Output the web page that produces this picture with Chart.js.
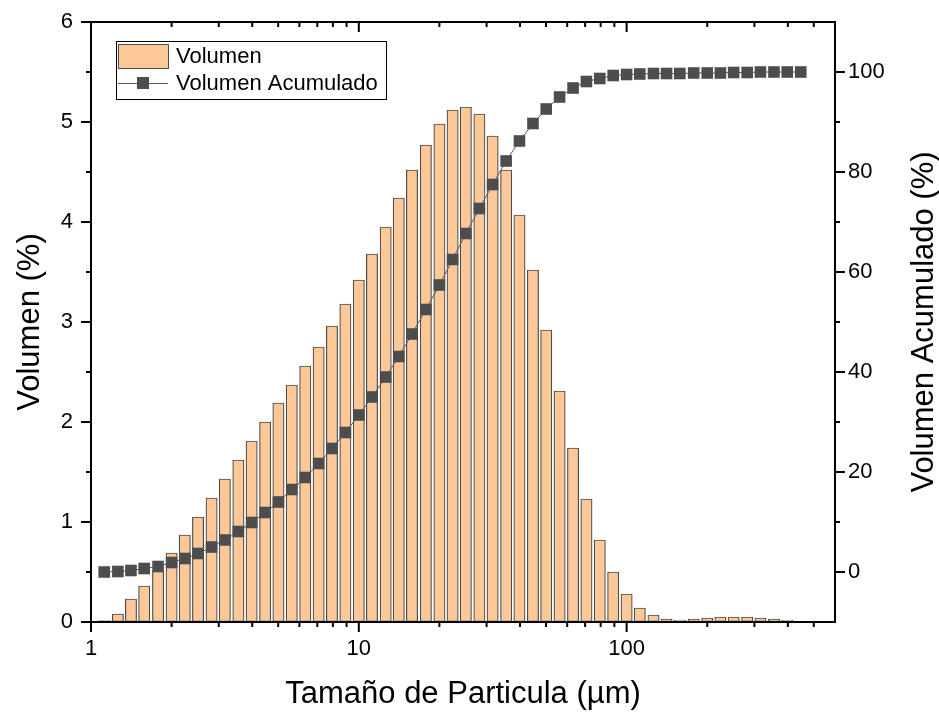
<!doctype html>
<html>
<head>
<meta charset="utf-8">
<title>Volumen vs Tamaño de Particula</title>
<script src="https://cdn.jsdelivr.net/npm/chart.js@4.4.0/dist/chart.umd.min.js"></script>
<style>
  html, body { margin: 0; padding: 0; background: #fff; }
  #holder { width: 939px; height: 719px; }
</style>
</head>
<body>
<div id="holder"><canvas id="chart"></canvas></div>
<script>
// particle size (µm), one bin every 1/20 decade
var tamanos = [1.12, 1.26, 1.41, 1.58, 1.78, 2.00, 2.24, 2.51, 2.82, 3.16,
               3.55, 3.98, 4.47, 5.01, 5.62, 6.31, 7.08, 7.94, 8.91, 10.0,
               11.2, 12.6, 14.1, 15.8, 17.8, 20.0, 22.4, 25.1, 28.2, 31.6,
               35.5, 39.8, 44.7, 50.1, 56.2, 63.1, 70.8, 79.4, 89.1, 100,
               112, 126, 141, 158, 178, 200, 224, 251, 282, 316,
               355, 398, 447];
// Volumen (%)
var volumen = [0.015, 0.08, 0.23, 0.36, 0.51, 0.69, 0.87, 1.05, 1.24, 1.43,
               1.62, 1.81, 2.00, 2.19, 2.37, 2.56, 2.75, 2.96, 3.18, 3.42,
               3.68, 3.95, 4.24, 4.52, 4.77, 4.98, 5.12, 5.15, 5.08, 4.86,
               4.52, 4.07, 3.52, 2.92, 2.31, 1.74, 1.23, 0.82, 0.50, 0.28,
               0.14, 0.07, 0.03, 0.02, 0.03, 0.04, 0.05, 0.05, 0.05, 0.04,
               0.03, 0.02];
// Volumen Acumulado (%)
var acumulado = [0, 0.1, 0.3, 0.7, 1.1, 1.9, 2.7, 3.7, 5.0, 6.4,
                 8.1, 9.9, 11.9, 14.0, 16.5, 18.9, 21.7, 24.7, 27.9, 31.4,
                 35.0, 39.0, 43.1, 47.6, 52.5, 57.4, 62.5, 67.7, 72.7, 77.5,
                 82.2, 86.2, 89.7, 92.6, 95.0, 96.8, 98.1, 98.7, 99.3, 99.5,
                 99.6, 99.7, 99.7, 99.7, 99.8, 99.8, 99.8, 99.9, 99.9, 100,
                 100, 100, 100];

var xTicks = [1, 10, 100];
var xTicksMinor = [2, 3, 4, 5, 6, 7, 8, 9, 20, 30, 40, 50, 60, 70, 80, 90, 200, 300, 400, 500];
var yTicks = [0, 1, 2, 3, 4, 5, 6];
var yTicksMinor = [0.5, 1.5, 2.5, 3.5, 4.5, 5.5];
var y1Ticks = [0, 20, 40, 60, 80, 100];
var y1TicksMinor = [10, 30, 50, 70, 90];

var FONT = '"Liberation Sans", Arial, sans-serif';
Chart.defaults.font.family = FONT;
Chart.defaults.color = '#000';

var peach = '#fdc898';
var dark = '#4d4d4d';

// axes box + tick marks (major long, minor short)
var framePlugin = {
  id: 'frame',
  afterDatasetsDraw: function(chart) {
    var ctx = chart.ctx, a = chart.chartArea, s = chart.scales;
    ctx.save();
    ctx.strokeStyle = '#000';
    ctx.lineWidth = 2;
    function line(x1, y1, x2, y2) {
      ctx.beginPath(); ctx.moveTo(x1, y1); ctx.lineTo(x2, y2); ctx.stroke();
    }
    xTicks.forEach(function(v) {
      var x = s.x.getPixelForValue(v);
      line(x, a.bottom, x, a.bottom + 10);
      line(x, a.top, x, a.top + 10);
    });
    xTicksMinor.forEach(function(v) {
      var x = s.x.getPixelForValue(v);
      line(x, a.bottom, x, a.bottom + 5);
      line(x, a.top, x, a.top + 5);
    });
    yTicks.forEach(function(v) {
      var y = s.y.getPixelForValue(v);
      line(a.left - 10, y, a.left, y);
    });
    yTicksMinor.forEach(function(v) {
      var y = s.y.getPixelForValue(v);
      line(a.left - 5, y, a.left, y);
    });
    y1Ticks.forEach(function(v) {
      var y = s.y1.getPixelForValue(v);
      line(a.right, y, a.right + 10, y);
    });
    y1TicksMinor.forEach(function(v) {
      var y = s.y1.getPixelForValue(v);
      line(a.right, y, a.right + 5, y);
    });
    ctx.strokeRect(a.left, a.top, a.right - a.left, a.bottom - a.top);

    // right axis title, reading bottom to top
    ctx.fillStyle = '#000';
    ctx.font = '31px ' + FONT;
    ctx.textAlign = 'center';
    ctx.textBaseline = 'middle';
    ctx.translate(924, (a.top + a.bottom) / 2);
    ctx.rotate(-Math.PI / 2);
    ctx.fillText('Volumen Acumulado (%)', 0, 0);
    ctx.restore();
  }
};

var legendPlugin = {
  id: 'boxLegend',
  afterDraw: function(chart) {
    var ctx = chart.ctx;
    var ds = chart.data.datasets;
    ctx.save();
    ctx.fillStyle = '#fff';
    ctx.fillRect(116, 41, 270, 58);
    ctx.strokeStyle = '#000';
    ctx.lineWidth = 1;
    ctx.strokeRect(116.5, 41.5, 270, 58);

    ctx.fillStyle = ds[0].backgroundColor;
    ctx.fillRect(118, 44, 50, 24);
    ctx.strokeStyle = ds[0].borderColor;
    ctx.strokeRect(118.5, 44.5, 50, 24);

    ctx.strokeStyle = ds[1].borderColor;
    ctx.beginPath(); ctx.moveTo(118, 83.5); ctx.lineTo(168, 83.5); ctx.stroke();
    ctx.fillStyle = ds[1].pointBackgroundColor;
    ctx.fillRect(137, 77, 12, 12);

    ctx.fillStyle = '#000';
    ctx.font = '22px ' + FONT;
    ctx.textBaseline = 'middle';
    ctx.fillText(ds[0].label, 176, 57);
    ctx.fillText(ds[1].label, 176, 84);
    ctx.restore();
  }
};

function setTicks(list) {
  return function(scale) {
    scale.ticks = list.map(function(v) { return { value: v }; });
  };
}

var ctx = document.getElementById('chart').getContext('2d');
window.myChart = new Chart(ctx, {
  type: 'bar',
  data: {
    datasets: [{
      type: 'bar',
      label: 'Volumen',
      data: volumen.map(function(v, i) { return { x: tamanos[i], y: v }; }),
      backgroundColor: peach,
      borderColor: dark,
      borderWidth: 1.2,
      borderSkipped: false,
      barThickness: 11.3,
      yAxisID: 'y',
      order: 2
    }, {
      type: 'line',
      label: 'Volumen Acumulado',
      data: acumulado.map(function(v, i) { return { x: tamanos[i], y: v }; }),
      borderColor: '#5a5a5a',
      borderWidth: 1,
      pointStyle: 'rect',
      pointRadius: 8.2,
      pointBorderWidth: 0,
      pointBackgroundColor: dark,
      yAxisID: 'y1',
      order: 1
    }]
  },
  options: {
    responsive: true,
    maintainAspectRatio: false,
    animation: false,
    layout: { padding: { top: 22, left: 0, right: 0, bottom: 0 } },
    plugins: {
      legend: { display: false },
      tooltip: { enabled: false }
    },
    scales: {
      x: {
        type: 'logarithmic',
        min: 1,
        max: 600,
        offset: false,
        afterBuildTicks: setTicks(xTicks),
        afterFit: function(s) { s.height = 97; },
        grid: { display: true, drawOnChartArea: false, color: 'rgba(0,0,0,0)', tickLength: 10, offset: false },
        border: { display: false },
        ticks: {
          autoSkip: false, maxRotation: 0, padding: 4,
          font: { size: 22 },
          callback: function(v) { return String(v); }
        },
        title: {
          display: true, text: 'Tamaño de Particula (µm)',
          font: { size: 31 }, padding: { top: 0, bottom: 6 }
        }
      },
      y: {
        type: 'linear',
        position: 'left',
        min: 0,
        max: 6,
        afterBuildTicks: setTicks(yTicks),
        afterFit: function(s) { s.width = 91; },
        grid: { display: true, drawOnChartArea: false, color: 'rgba(0,0,0,0)', tickLength: 10 },
        border: { display: false },
        ticks: { padding: 8, font: { size: 22 } },
        title: {
          display: true, text: 'Volumen (%)',
          font: { size: 31 }, padding: { top: 12, bottom: 0 }
        }
      },
      y1: {
        type: 'linear',
        position: 'right',
        min: -10,
        max: 110,
        afterBuildTicks: setTicks(y1Ticks),
        afterFit: function(s) { s.width = 104; },
        grid: { display: true, drawOnChartArea: false, color: 'rgba(0,0,0,0)', tickLength: 10 },
        border: { display: false },
        ticks: { padding: 3, font: { size: 22 } }
      }
    }
  },
  plugins: [framePlugin, legendPlugin]
});
</script>
</body>
</html>
